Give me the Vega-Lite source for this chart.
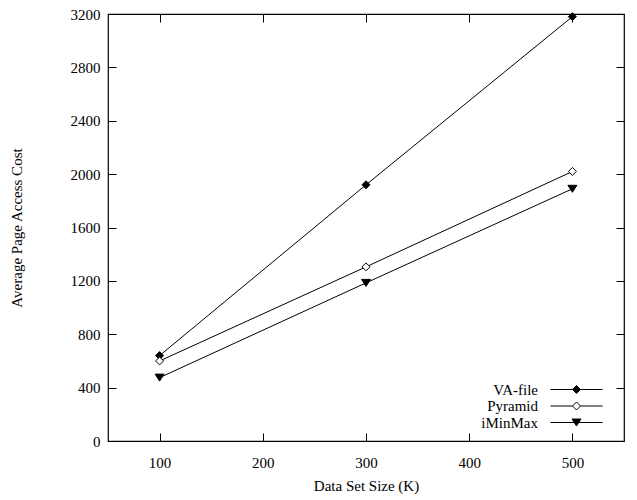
{
  "$schema": "https://vega.github.io/schema/vega-lite/v6.json",
  "width": 516,
  "height": 427,
  "autosize": {"type": "none"},
  "padding": {"left": 108, "top": 14, "right": 13, "bottom": 59},
  "background": "white",
  "config": {
    "view": {"stroke": "black", "strokeWidth": 1.2},
    "font": "Liberation Serif",
    "axis": {
      "domain": false,
      "grid": false,
      "ticks": true,
      "offset": -8,
      "tickSize": 8,
      "tickWidth": 1,
      "tickColor": "black",
      "tickOpacity": 1,
      "zindex": 1,
      "labelFont": "Liberation Serif",
      "labelFontSize": 15,
      "labelColor": "black",
      "titleFont": "Liberation Serif",
      "titleFontSize": 15,
      "titleFontWeight": "normal",
      "titleColor": "black"
    }
  },
  "data": {
    "values": [
      {"series": "VA-file", "size": 100, "cost": 640},
      {"series": "VA-file", "size": 300, "cost": 1920},
      {"series": "VA-file", "size": 500, "cost": 3180},
      {"series": "Pyramid", "size": 100, "cost": 600},
      {"series": "Pyramid", "size": 300, "cost": 1305},
      {"series": "Pyramid", "size": 500, "cost": 2020},
      {"series": "iMinMax", "size": 100, "cost": 475},
      {"series": "iMinMax", "size": 300, "cost": 1185},
      {"series": "iMinMax", "size": 500, "cost": 1890}
    ]
  },
  "layer": [
    {
      "mark": {"type": "line", "color": "black", "strokeWidth": 1},
      "encoding": {
        "x": {
          "field": "size",
          "type": "quantitative",
          "scale": {"domain": [50, 550], "nice": false},
          "axis": {
            "orient": "bottom",
            "values": [100, 200, 300, 400, 500],
            "title": "Data Set Size (K)",
            "labelPadding": 14,
            "titlePadding": 8
          }
        },
        "y": {
          "field": "cost",
          "type": "quantitative",
          "scale": {"domain": [0, 3200], "nice": false},
          "axis": {
            "orient": "left",
            "values": [0, 400, 800, 1200, 1600, 2000, 2400, 2800, 3200],
            "format": "d",
            "title": "Average Page Access Cost",
            "labelPadding": 8,
            "titlePadding": 46
          }
        },
        "detail": {"field": "series"}
      }
    },
    {
      "mark": {"type": "point", "filled": true, "stroke": "black", "strokeWidth": 1, "opacity": 1},
      "encoding": {
        "x": {
          "field": "size",
          "type": "quantitative",
          "axis": {"orient": "top", "values": [100, 200, 300, 400, 500], "labels": false, "title": null}
        },
        "y": {
          "field": "cost",
          "type": "quantitative",
          "axis": {"orient": "right", "values": [0, 400, 800, 1200, 1600, 2000, 2400, 2800, 3200], "labels": false, "title": null}
        },
        "shape": {
          "field": "series",
          "scale": {
            "domain": ["VA-file", "Pyramid", "iMinMax"],
            "range": ["M0,-4L4,0L0,4L-4,0Z", "M0,-4L4,0L0,4L-4,0Z", "M-4.5,-3.5H4.5L0,3.5Z"]
          },
          "legend": null
        },
        "fill": {
          "field": "series",
          "scale": {"domain": ["VA-file", "Pyramid", "iMinMax"], "range": ["black", "white", "black"]},
          "legend": null
        },
        "size": {"value": 4}
      }
    },
    {
      "transform": [{"filter": "datum.cost < 0"}],
      "mark": {"type": "point", "filled": true, "strokeWidth": 1, "opacity": 1},
      "encoding": {
        "x": {"field": "size", "type": "quantitative", "axis": null},
        "y": {"field": "cost", "type": "quantitative", "axis": null},
        "shape": {
          "field": "series",
          "scale": {
            "domain": ["VA-file", "Pyramid", "iMinMax"],
            "range": [
              "M-26,0H26M0,-4L4,0L0,4L-4,0Z",
              "M-26,0H-4M4,0H26M0,-4L4,0L0,4L-4,0Z",
              "M-26,0H26M-4.5,-3.5H4.5L0,3.5Z"
            ]
          },
          "legend": {
            "orient": "none",
            "legendX": 461,
            "legendY": 368,
            "padding": 0,
            "title": null,
            "labelFont": "Liberation Serif",
            "labelFontSize": 15,
            "labelColor": "black",
            "labelAlign": "right",
            "labelOffset": -46,
            "rowPadding": 0.5,
            "symbolSize": 4,
            "symbolOpacity": 1,
            "symbolStrokeWidth": 1
          }
        },
        "fill": {
          "field": "series",
          "scale": {"domain": ["VA-file", "Pyramid", "iMinMax"], "range": ["black", "white", "black"]},
          "legend": {
            "orient": "none",
            "legendX": 461,
            "legendY": 368,
            "padding": 0,
            "title": null,
            "labelFont": "Liberation Serif",
            "labelFontSize": 15,
            "labelColor": "black",
            "labelAlign": "right",
            "labelOffset": -46,
            "rowPadding": 0.5,
            "symbolSize": 4,
            "symbolOpacity": 1,
            "symbolStrokeWidth": 1
          }
        },
        "stroke": {
          "field": "series",
          "scale": {"domain": ["VA-file", "Pyramid", "iMinMax"], "range": ["black", "black", "black"]},
          "legend": {
            "orient": "none",
            "legendX": 461,
            "legendY": 368,
            "padding": 0,
            "title": null,
            "labelFont": "Liberation Serif",
            "labelFontSize": 15,
            "labelColor": "black",
            "labelAlign": "right",
            "labelOffset": -46,
            "rowPadding": 0.5,
            "symbolSize": 4,
            "symbolOpacity": 1,
            "symbolStrokeWidth": 1
          }
        },
        "size": {"value": 4}
      }
    }
  ],
  "resolve": {
    "scale": {"shape": "independent", "fill": "independent", "stroke": "independent"},
    "legend": {"shape": "independent", "fill": "independent", "stroke": "independent"},
    "axis": {"x": "independent", "y": "independent"}
  }
}
